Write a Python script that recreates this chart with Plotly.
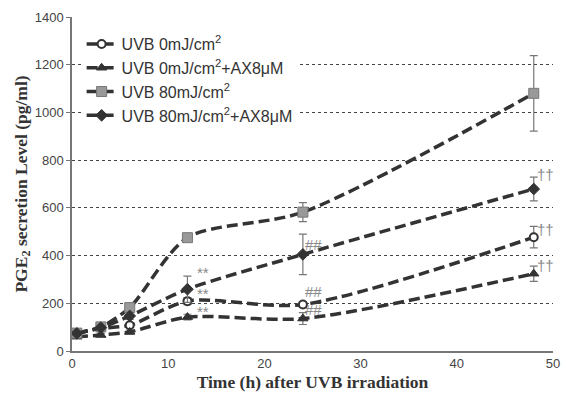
import plotly.graph_objects as go

times = [0.5, 3, 6, 12, 24, 48]

names = ["UVB 0mJ/cm<sup>2</sup>", "UVB 0mJ/cm<sup>2</sup>+AX8μM",
         "UVB 80mJ/cm<sup>2</sup>", "UVB 80mJ/cm<sup>2</sup>+AX8μM"]

uvb0 = [75, 95, 108, 209, 195, 477]
uvb0_err = [8, 8, 10, 15, 12, 45]
uvb0_ax = [60, 67, 80, 142, 136, 324]
uvb0_ax_err = [6, 6, 8, 12, 25, 32]
uvb80 = [75, 101, 182, 475, 582, 1080]
uvb80_err = [8, 8, 12, 12, 40, 158]
uvb80_ax = [74, 98, 147, 259, 405, 679]
uvb80_ax_err = [8, 8, 15, 55, 85, 50]

sig_labels = ["**", "**", "**", "##", "##", "##", "††", "††", "††"]
sig_x = [12, 12, 12, 24, 24, 24, 48, 48, 48]
sig_y = [327, 242, 167, 447, 250, 174, 739, 509, 359]
sig_shift = [16, 16, 16, 11, 11, 11, 12, 12, 12]

series = [uvb0, uvb0_ax, uvb80, uvb80_ax]
errors = [uvb0_err, uvb0_ax_err, uvb80_err, uvb80_ax_err]
markers = [
    dict(symbol="circle", size=8, color="white", line=dict(color="#333", width=2)),
    dict(symbol="triangle-up", size=9, color="#333", line=dict(color="#333", width=1)),
    dict(symbol="square", size=10, color="#999", line=dict(color="#777", width=1)),
    dict(symbol="diamond", size=9, color="#333", line=dict(color="#333", width=1)),
]

fig = go.Figure()
for name, ys, es, mk in zip(names, series, errors, markers):
    fig.add_trace(go.Scatter(
        x=times, y=ys, name=name, mode="lines+markers",
        line=dict(color="#333", width=3.5, dash="11px,5px", shape="spline", smoothing=0.8),
        marker=mk,
        error_y=dict(type="data", array=es, visible=True, color="#777", thickness=1.2, width=4),
    ))

for t, xv, yv, sh in zip(sig_labels, sig_x, sig_y, sig_shift):
    fig.add_annotation(x=xv, y=yv, text=t, showarrow=False, xshift=sh,
                       font=dict(family="Liberation Sans, Arial", size=15, color="#888"))

fig.update_layout(
    width=570, height=403,
    margin=dict(l=72, r=10, t=16, b=52),
    paper_bgcolor="white", plot_bgcolor="white",
    font=dict(family="Liberation Sans, Arial", color="#444"),
    showlegend=True,
    legend=dict(x=0.02, y=0.97, xanchor="left", yanchor="top",
                font=dict(family="Liberation Sans, Arial", size=16, color="#333"),
                bgcolor="white", tracegroupgap=0, itemwidth=30),
    xaxis=dict(range=[0, 50], tickvals=[0, 10, 20, 30, 40, 50], showgrid=False,
               showline=True, linecolor="#777", linewidth=1.5, ticks="", zeroline=False,
               tickfont=dict(size=13, color="#444"),
               title=dict(text="<b>Time (h) after UVB irradiation</b>",
                          font=dict(family="Liberation Serif, Times New Roman", size=17.5, color="#333"),
                          standoff=5)),
    yaxis=dict(range=[0, 1400], tickvals=list(range(0, 1401, 200)), showgrid=True,
               gridcolor="#444", griddash="3px,3px", gridwidth=1,
               showline=True, linecolor="#777", linewidth=1.5, ticks="outside", ticklen=4,
               tickcolor="#777", zeroline=False,
               tickfont=dict(size=13, color="#444"),
               title=dict(text="<b>PGE<sub>2</sub> secretion Level (pg/ml)</b>",
                          font=dict(family="Liberation Serif, Times New Roman", size=17.5, color="#333"),
                          standoff=3)),
)

fig.write_html("out.html")
